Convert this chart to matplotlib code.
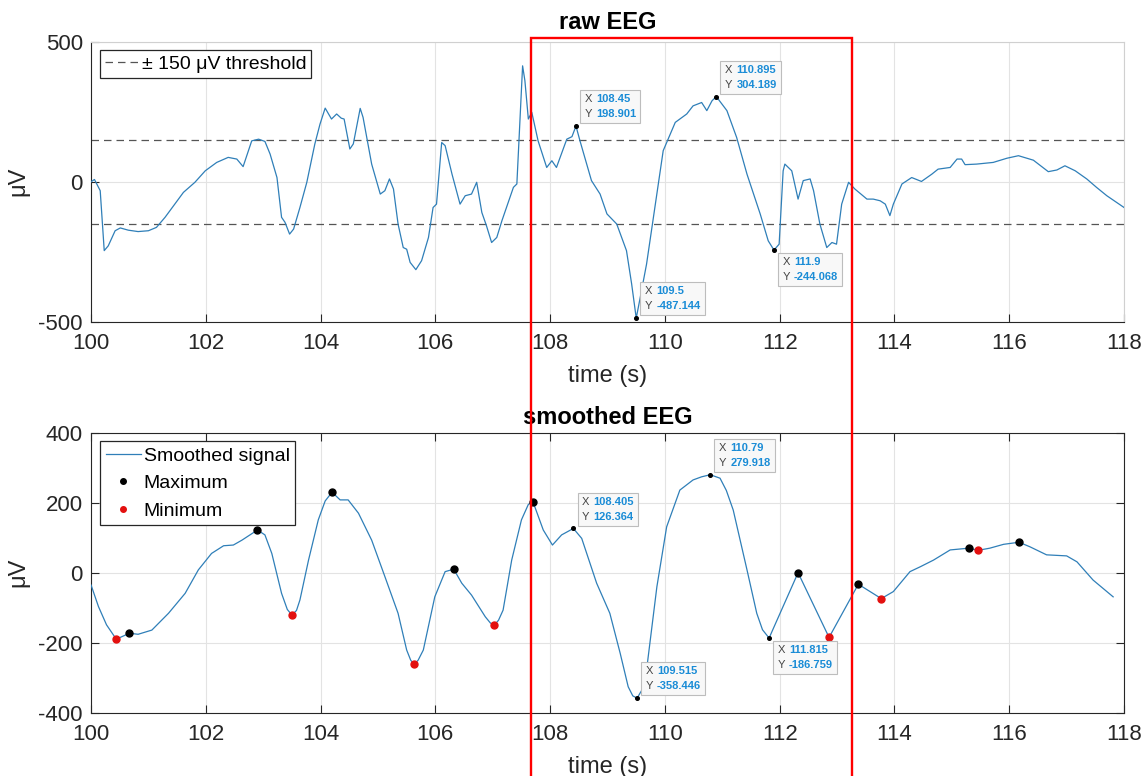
import numpy as np
import matplotlib
matplotlib.use("Agg")
import matplotlib.pyplot as plt
from matplotlib.patches import Rectangle
from matplotlib.offsetbox import TextArea, HPacker, AnnotationBbox

plt.rcParams['font.family'] = ['Liberation Sans', 'DejaVu Sans']
plt.rcParams['axes.unicode_minus'] = False

# raw EEG trace (s, uV)
raw_t = [100.0, 100.06, 100.16, 100.23, 100.30, 100.42, 100.51, 100.65, 100.82, 101.0,
         101.14, 101.29, 101.46, 101.61, 101.81, 101.99, 102.19, 102.39, 102.54, 102.65,
         102.80, 102.92, 103.03, 103.12, 103.24, 103.32, 103.38, 103.46, 103.53, 103.64,
         103.76, 103.90, 103.99, 104.08, 104.19, 104.28, 104.36, 104.41, 104.51, 104.57,
         104.69, 104.74, 104.89, 105.04, 105.12, 105.20, 105.27, 105.35, 105.44, 105.50,
         105.56, 105.66, 105.76, 105.88, 105.96, 106.02, 106.11, 106.17, 106.29, 106.43,
         106.52, 106.63, 106.72, 106.81, 106.89, 106.98, 107.07, 107.16, 107.36, 107.42,
         107.48, 107.52, 107.56, 107.62, 107.68, 107.79, 107.94, 108.03, 108.11, 108.29,
         108.38, 108.45, 108.52, 108.72, 108.87, 108.99, 109.16, 109.33, 109.42, 109.5,
         109.57, 109.68, 109.80, 109.97, 110.18, 110.38, 110.49, 110.64, 110.73, 110.82,
         110.895, 111.08, 111.25, 111.43, 111.66, 111.80, 111.9, 111.99, 112.06, 112.09,
         112.21, 112.32, 112.41, 112.53, 112.59, 112.70, 112.82, 112.91, 112.99, 113.08,
         113.20, 113.31, 113.52, 113.63, 113.75, 113.84, 113.92, 113.98, 114.13, 114.30,
         114.47, 114.65, 114.76, 114.97, 115.09, 115.17, 115.23, 115.43, 115.72, 115.96,
         116.16, 116.42, 116.68, 116.83, 116.97, 117.15, 117.35, 117.52, 117.70, 117.87,
         118.0]
raw_v = [0, 8, -32, -246, -229, -175, -165, -173, -178, -175,
         -163, -127, -80, -38, -2, 39, 69, 87, 81, 54,
         146, 152, 144, 99, 15, -127, -145, -187, -169, -92,
         -2, 135, 206, 263, 224, 242, 227, 224, 117, 135,
         262, 230, 63, -44, -32, 10, -26, -151, -235, -241,
         -288, -314, -282, -199, -92, -80, 140, 129, 27, -80,
         -50, -44, -2, -110, -157, -217, -199, -139, -20, -8,
         242, 414, 361, 224, 248, 146, 51, 75, 51, 152,
         161, 198.901, 146, 4, -44, -115, -151, -246, -365, -487.144,
         -413, -294, -127, 111, 212, 242, 271, 283, 254, 289,
         304.189, 254, 158, 27, -115, -211, -244.068, -223, 39, 63,
         39, -62, 4, 10, -32, -151, -235, -217, -223, -80,
         -2, -26, -62, -62, -68, -80, -121, -80, -8, 15,
         1, 27, 45, 51, 81, 81, 61, 63, 69, 84,
         93, 77, 36, 42, 57, 39, 10, -20, -50, -74,
         -92]

# smoothed EEG
sm_t = [100.0, 100.13, 100.27, 100.44, 100.67, 100.82, 101.06, 101.35, 101.64, 101.87,
        102.10, 102.31, 102.48, 102.63, 102.90, 103.03, 103.15, 103.32, 103.42, 103.50,
        103.58, 103.64, 103.79, 103.96, 104.08, 104.20, 104.34, 104.48, 104.66, 104.89,
        105.12, 105.35, 105.50, 105.57, 105.63, 105.70, 105.79, 105.99, 106.17, 106.32,
        106.46, 106.63, 106.87, 106.96, 107.03, 107.10, 107.18, 107.33, 107.50, 107.62,
        107.70, 107.88, 108.04, 108.20, 108.405, 108.55, 108.81, 109.04, 109.22, 109.36,
        109.44, 109.515, 109.60, 109.68, 109.86, 110.03, 110.26, 110.49, 110.64, 110.79,
        110.96, 111.07, 111.19, 111.43, 111.60, 111.70, 111.815, 112.32, 112.86, 113.37,
        113.77, 113.98, 114.27, 114.45, 114.68, 114.97, 115.29, 115.46, 115.66, 115.90,
        116.17, 116.36, 116.65, 117.00, 117.18, 117.46, 117.81]
sm_v = [-35, -97, -149, -190, -173, -176, -164, -116, -59, 8,
        55, 77, 79, 93, 122, 108, 55, -59, -105, -121,
        -108, -78, 36, 151, 205, 230, 208, 208, 170, 93,
        -11, -116, -221, -250, -262, -250, -221, -69, 3, 10,
        -30, -64, -126, -144, -149, -136, -107, 36, 151, 195,
        203, 122, 79, 108, 126.364, 98, -30, -116, -230, -326,
        -352, -358.446, -335, -278, -40, 131, 236, 265, 274, 279.918,
        270, 235, 179, 8, -116, -163, -186.759, 0, -185, -33,
        -74, -54, 3, 17, 36, 65, 70, 64, 70, 81,
        87, 74, 51, 48, 31, -21, -69]

max_t = [100.67, 102.90, 104.20, 106.32, 107.70, 112.32, 113.37, 115.29, 116.17]
max_v = [-173, 122, 230, 10, 203, 0, -33, 70, 87]
min_t = [100.44, 103.50, 105.63, 107.03, 112.86, 113.77, 115.46]
min_v = [-190, -121, -262, -149, -185, -74, 64]

raw_tips = [(108.45, 198.901, True), (110.895, 304.189, True),
            (109.5, -487.144, True), (111.9, -244.068, False)]
sm_tips = [(108.405, 126.364, True), (110.79, 279.918, True),
           (109.515, -358.446, True), (111.815, -186.759, False)]

threshold = 150
window = (107.67, 113.26)

line_c = '#2f7fb8'
dark = '#262626'


def datatip(ax, x, y, above):
    ax.plot(x, y, 'o', color='k', ms=2.6, zorder=6)
    txt = dict(fontsize=8, linespacing=1.6)
    keys = TextArea('X\nY', textprops=dict(color='#444444', **txt))
    vals = TextArea(f'{x:g}\n{y:g}', textprops=dict(color='#1a8cd6', fontweight='bold', **txt))
    pack = HPacker(children=[keys, vals], align='top', pad=0, sep=3)
    ab = AnnotationBbox(pack, (x, y), xybox=(6, 5 if above else -5),
                        boxcoords='offset points', box_alignment=(0, 0 if above else 1),
                        frameon=True, pad=0.6,
                        bboxprops=dict(boxstyle='square', fc='#f8f8f8', ec='#bdbdbd', lw=0.8))
    ab.set_zorder(8)
    ax.add_artist(ab)


def style(ax, full_box):
    ax.set_xlim(100, 118)
    ax.set_xticks(np.arange(100, 119, 2))
    ax.grid(True, color='#e3e3e3', lw=0.8)
    ax.set_axisbelow(True)
    for s in ('left', 'bottom'):
        ax.spines[s].set_color(dark)
    for s in ('top', 'right'):
        ax.spines[s].set_color(dark if full_box else '#d0d0d0')
    ax.tick_params(direction='in', length=6, width=0.8, colors=dark, labelsize=16,
                   top=full_box, right=full_box)
    ax.tick_params(axis='x', pad=8)
    ax.tick_params(axis='y', pad=6)
    ax.set_xlabel('time (s)', fontsize=17, color=dark, labelpad=8)
    ax.set_ylabel('μV', fontsize=17, color=dark, labelpad=6)


fig = plt.figure(figsize=(11.45, 7.76), dpi=100)
ax1 = fig.add_axes([0.0795, 0.5854, 0.9022, 0.3608])
ax2 = fig.add_axes([0.0795, 0.0816, 0.9022, 0.3608])

# raw
ax1.plot(raw_t, raw_v, color=line_c, lw=0.9, zorder=3)
thr1, = ax1.plot([100, 118], [threshold, threshold], ls=(0, (6, 4)), color='#555555',
                 lw=0.9, label='± 150 μV threshold', zorder=2)
ax1.plot([100, 118], [-threshold, -threshold], ls=(0, (6, 4)), color='#555555', lw=0.9, zorder=2)
ax1.set_ylim(-500, 500)
ax1.set_yticks([-500, 0, 500])
style(ax1, False)
ax1.set_title('raw EEG', fontsize=17, fontweight='bold', pad=9)
for x, y, up in raw_tips:
    datatip(ax1, x, y, up)
leg1 = ax1.legend(handles=[thr1], loc='upper left', fontsize=14, handlelength=1.8,
                  handletextpad=0.1, borderaxespad=0.45, borderpad=0.25,
                  fancybox=False, framealpha=1, edgecolor=dark)
leg1.get_frame().set_linewidth(0.9)

# smoothed
ax2.plot(sm_t, sm_v, color=line_c, lw=0.9, zorder=3, label='Smoothed signal')
ax2.plot(max_t, max_v, 'o', color='k', ms=5, ls='none', zorder=5, label='Maximum')
ax2.plot(min_t, min_v, 'o', color='#e3100f', ms=5, ls='none', zorder=5, label='Minimum')
ax2.set_ylim(-400, 400)
ax2.set_yticks([-400, -200, 0, 200, 400])
style(ax2, True)
ax2.set_title('smoothed EEG', fontsize=17, fontweight='bold', pad=6)
for x, y, up in sm_tips:
    datatip(ax2, x, y, up)
leg2 = ax2.legend(loc='upper left', fontsize=14, handlelength=1.8, handletextpad=0.15,
                  borderaxespad=0.45, borderpad=0.3, labelspacing=0.5, markerscale=0.8,
                  fancybox=False, framealpha=1, edgecolor=dark)
leg2.get_frame().set_linewidth(0.9)

# highlighted window spanning both panels
to_fig = ax1.transData + fig.transFigure.inverted()
x0 = to_fig.transform((window[0], 0))[0]
x1 = to_fig.transform((window[1], 0))[0]
fig.patches.append(Rectangle((x0, -0.02), x1 - x0, 0.9504 + 0.02, transform=fig.transFigure,
                             fill=False, ec='#ff0000', lw=1.7, zorder=10))

fig.savefig('out.png', dpi=100)
